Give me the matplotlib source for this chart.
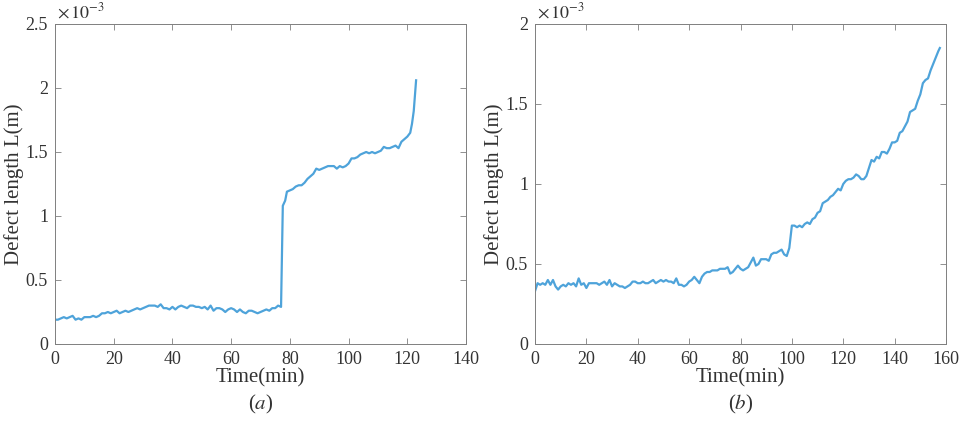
import matplotlib
matplotlib.use("Agg")
import matplotlib.pyplot as plt
import numpy as np

plt.rcParams['font.family'] = ['Liberation Serif', 'DejaVu Serif']
plt.rcParams['mathtext.fontset'] = 'stix'

# (a) defect length, x 1e-3 m
time_a = [0, 1, 2, 3, 4, 5, 6, 7, 8, 9, 10, 11, 12, 13, 14, 15, 16, 17, 18, 19,
          20, 21, 22, 23, 24, 25, 26, 27, 28, 29, 30, 31, 32, 33, 34, 35, 36, 37, 38, 39,
          40, 41, 42, 43, 44, 45, 46, 47, 48, 49, 50, 51, 52, 53, 54, 55, 56, 57, 58, 59,
          60, 61, 62, 63, 64, 65, 66, 67, 68, 69, 70, 71, 72, 73, 74, 75, 76, 77, 77.6, 78.4,
          79, 80, 81, 82, 83, 84, 85, 86, 87, 88, 89, 90, 91, 92, 93, 94, 95, 96, 97, 98,
          99, 100, 101, 102, 103, 104, 105, 106, 107, 108, 109, 110, 111, 112, 113, 114, 115, 116, 117, 118,
          119, 120, 121, 121.6, 122.2, 123]
length_a = [0.19, 0.19, 0.20, 0.21, 0.20, 0.21, 0.22, 0.19, 0.20, 0.19, 0.21, 0.21, 0.21, 0.22, 0.21, 0.22, 0.24, 0.24, 0.25, 0.24,
            0.25, 0.26, 0.24, 0.25, 0.26, 0.25, 0.26, 0.27, 0.28, 0.27, 0.28, 0.29, 0.30, 0.30, 0.30, 0.29, 0.31, 0.28, 0.28, 0.27,
            0.29, 0.27, 0.29, 0.30, 0.29, 0.28, 0.30, 0.30, 0.29, 0.29, 0.28, 0.29, 0.27, 0.30, 0.26, 0.28, 0.28, 0.27, 0.25, 0.27,
            0.28, 0.27, 0.25, 0.27, 0.25, 0.24, 0.26, 0.26, 0.25, 0.24, 0.25, 0.26, 0.27, 0.26, 0.28, 0.28, 0.30, 0.29, 1.08, 1.12,
            1.19, 1.20, 1.21, 1.23, 1.24, 1.24, 1.26, 1.29, 1.31, 1.33, 1.37, 1.36, 1.37, 1.38, 1.39, 1.39, 1.39, 1.37, 1.39, 1.38,
            1.39, 1.41, 1.45, 1.45, 1.46, 1.48, 1.49, 1.50, 1.49, 1.50, 1.49, 1.50, 1.51, 1.54, 1.53, 1.53, 1.54, 1.55, 1.53, 1.58,
            1.60, 1.62, 1.65, 1.72, 1.82, 2.06]

# (b) defect length, x 1e-3 m
time_b = list(range(0, 158)) + [157.6]
length_b = [0.33, 0.38, 0.37, 0.38, 0.37, 0.40, 0.37, 0.40, 0.36, 0.34, 0.36, 0.37, 0.36, 0.38, 0.37, 0.38, 0.36, 0.41, 0.37, 0.38,
            0.35, 0.38, 0.38, 0.38, 0.38, 0.37, 0.38, 0.39, 0.37, 0.40, 0.36, 0.38, 0.37, 0.36, 0.36, 0.35, 0.36, 0.37, 0.39, 0.39,
            0.38, 0.38, 0.39, 0.38, 0.38, 0.39, 0.40, 0.38, 0.39, 0.40, 0.39, 0.40, 0.39, 0.39, 0.38, 0.41, 0.37, 0.37, 0.36, 0.37,
            0.39, 0.40, 0.42, 0.40, 0.38, 0.42, 0.44, 0.45, 0.45, 0.46, 0.46, 0.46, 0.47, 0.47, 0.47, 0.48, 0.44, 0.45, 0.47, 0.49,
            0.47, 0.46, 0.47, 0.48, 0.51, 0.54, 0.49, 0.50, 0.53, 0.53, 0.53, 0.52, 0.56, 0.57, 0.57, 0.58, 0.59, 0.56, 0.55, 0.60,
            0.74, 0.74, 0.73, 0.74, 0.73, 0.75, 0.76, 0.75, 0.78, 0.79, 0.82, 0.83, 0.88, 0.89, 0.90, 0.92, 0.93, 0.95, 0.97, 0.96,
            1.00, 1.02, 1.03, 1.03, 1.04, 1.06, 1.05, 1.03, 1.03, 1.05, 1.10, 1.15, 1.14, 1.17, 1.16, 1.20, 1.20, 1.19, 1.22, 1.26,
            1.26, 1.27, 1.32, 1.33, 1.36, 1.39, 1.45, 1.46, 1.47, 1.52, 1.56, 1.63, 1.65, 1.66, 1.71, 1.75, 1.79, 1.83, 1.85]

panels = [
    (time_a, length_a, [0, 140], np.arange(0, 141, 20), [0, 2.5], np.arange(0, 2.51, 0.5), 'a'),
    (time_b, length_b, [0, 160], np.arange(0, 161, 20), [0, 2.0], np.arange(0, 2.01, 0.5), 'b'),
]

line_color = '#4EA3DA'
text_color = '#333333'
edge_color = '#7f7f7f'

fig = plt.figure(figsize=(9.68, 4.21), dpi=100)
lefts = [55 / 968, 535 / 968]

for left, (t, L, xl, xt, yl, yt, tag) in zip(lefts, panels):
    ax = fig.add_axes([left, 77 / 421, 411 / 968, 320 / 421])
    ax.plot(t, L, color=line_color, linewidth=1.6)
    ax.set_xlim(xl)
    ax.set_ylim(yl)
    ax.set_xticks(xt)
    ax.set_yticks(yt)
    ax.set_yticklabels(['%g' % v for v in yt])
    ax.tick_params(direction='in', length=4, width=0.6, top=True, right=True,
                   labelsize=13, colors=edge_color, labelcolor=text_color, pad=5)
    for s in ax.spines.values():
        s.set_color(edge_color)
        s.set_linewidth(0.7)
    ax.set_xlabel('Time(min)', fontsize=15, color=text_color, labelpad=0)
    ax.set_ylabel('Defect length L(m)', fontsize=15, color=text_color, labelpad=1)
    ax.text(0.005, 1.005, r'$\times\,10^{-3}$', transform=ax.transAxes, fontsize=13,
            color=text_color, ha='left', va='bottom')
    ax.text(0.5, -0.19, '(' + r'$\it{%s}$' % tag + ')', transform=ax.transAxes, fontsize=15,
            color=text_color, ha='center', va='center')

fig.savefig('out.png', dpi=100)
